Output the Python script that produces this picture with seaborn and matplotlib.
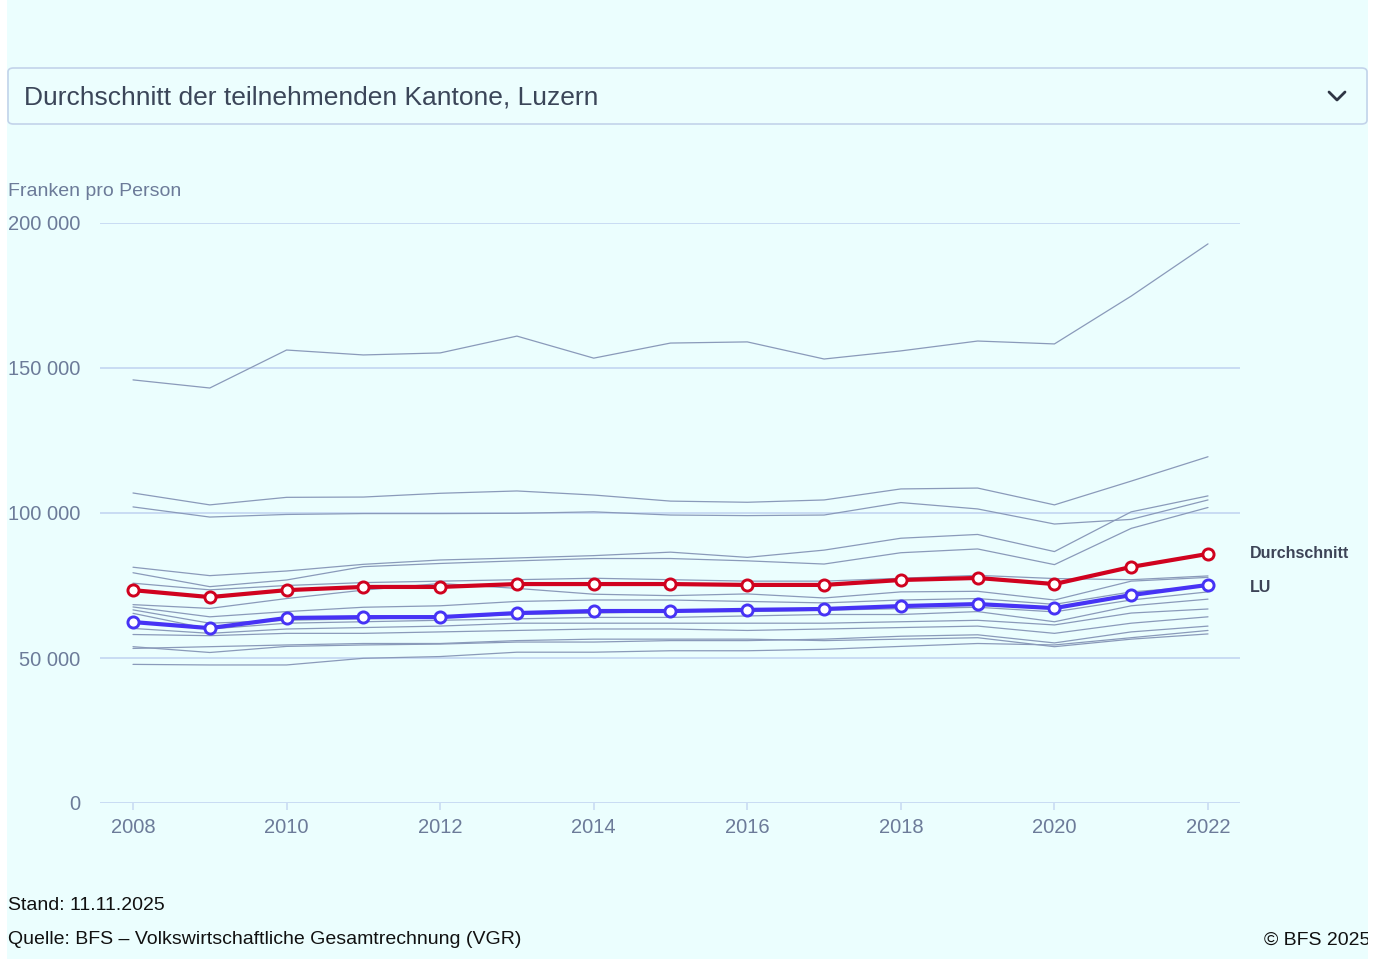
import numpy as np
import pandas as pd
import matplotlib
matplotlib.use("Agg")
import matplotlib.pyplot as plt
import seaborn as sns
from matplotlib.patches import FancyBboxPatch, Rectangle
from matplotlib.lines import Line2D

# ---------------- data ----------------
years = list(range(2008, 2023))

durchschnitt = [73.4, 71.0, 73.4, 74.5, 74.5, 75.5, 75.5, 75.5, 75.2, 75.2, 76.9, 77.6, 75.5, 81.4, 85.9]
luzern = [62.4, 60.3, 63.8, 64.1, 64.1, 65.5, 66.2, 66.2, 66.6, 66.9, 67.9, 68.6, 67.2, 71.7, 75.2]

kanton_g1 = [145.9, 143.1, 156.2, 154.5, 155.2, 161.0, 153.4, 158.6, 159.0, 153.1, 155.9, 159.3, 158.3, 174.8, 192.8]
kanton_g2 = [106.9, 102.8, 105.4, 105.5, 106.8, 107.6, 106.2, 104.1, 103.7, 104.5, 108.3, 108.6, 102.8, 111.0, 119.4]
kanton_g3 = [102.1, 98.6, 99.5, 99.8, 99.8, 99.9, 100.4, 99.3, 99.1, 99.3, 103.6, 101.4, 96.2, 97.8, 104.5]
kanton_g4 = [81.3, 78.4, 80.0, 82.3, 83.8, 84.5, 85.3, 86.5, 84.7, 87.2, 91.3, 92.6, 86.7, 100.4, 105.9]
kanton_g5 = [79.4, 74.6, 76.9, 81.5, 82.6, 83.5, 84.3, 84.3, 83.5, 82.4, 86.3, 87.6, 82.2, 94.7, 101.9]
kanton_c1 = [75.8, 73.5, 75.0, 76.0, 76.5, 77.0, 77.5, 77.0, 76.5, 76.5, 77.5, 78.5, 77.4, 77.0, 78.3]
kanton_c2 = [68.4, 67.1, 70.5, 73.4, 75.7, 74.0, 72.0, 71.5, 72.1, 70.7, 72.8, 73.0, 70.0, 76.5, 77.8]
kanton_c3 = [67.6, 64.2, 66.0, 67.5, 68.0, 69.5, 70.0, 70.0, 69.5, 69.0, 70.0, 70.5, 68.5, 72.8, 74.8]
kanton_c4 = [66.6, 62.0, 63.0, 63.5, 64.0, 65.0, 65.5, 66.0, 66.0, 66.5, 67.0, 67.5, 65.9, 70.0, 72.8]
kanton_c5 = [65.4, 60.0, 62.0, 62.5, 63.0, 63.5, 64.0, 64.0, 64.5, 65.0, 65.0, 66.0, 62.5, 68.0, 70.3]
kanton_c6 = [60.2, 58.5, 60.0, 60.5, 61.0, 62.0, 62.0, 62.0, 62.0, 62.0, 62.5, 63.0, 61.4, 65.5, 66.9]
kanton_c7 = [58.1, 57.7, 58.5, 58.5, 59.0, 59.5, 60.0, 60.0, 59.5, 60.0, 60.5, 61.0, 58.5, 62.0, 64.2]
kanton_c8 = [53.9, 51.9, 54.0, 54.5, 54.8, 55.5, 55.5, 56.0, 56.0, 56.5, 57.5, 58.0, 55.2, 59.0, 61.0]
kanton_c9 = [53.3, 53.9, 54.5, 55.0, 55.0, 56.0, 56.5, 56.5, 56.5, 56.0, 56.5, 57.0, 53.9, 56.5, 58.3]
kanton_c10 = [47.8, 47.6, 47.6, 49.9, 50.5, 52.0, 52.0, 52.5, 52.5, 53.0, 54.0, 55.0, 54.5, 57.0, 59.5]

gray_series = {
    "K1": kanton_g1, "K2": kanton_g2, "K3": kanton_g3, "K4": kanton_g4, "K5": kanton_g5,
    "K6": kanton_c1, "K7": kanton_c2, "K8": kanton_c3, "K9": kanton_c4, "K10": kanton_c5,
    "K11": kanton_c6, "K12": kanton_c7, "K13": kanton_c8, "K14": kanton_c9, "K15": kanton_c10,
}

y_ticks = [0, 50000, 100000, 150000, 200000]
y_ticklabels = ["0", "50 000", "100 000", "150 000", "200 000"]
x_ticks = [2008, 2010, 2012, 2014, 2016, 2018, 2020, 2022]

# ---------------- style ----------------
BG = "#ebfefe"
GRID = "#c9dcf3"
TICK_TXT = "#6c7b99"
GRAY_LINE = "#8a9aba"
RED = "#d0021f"
BLUE = "#4633f5"

sns.set_theme(style="white")
plt.rcParams["font.family"] = ["Liberation Sans", "DejaVu Sans"]

W, H = 1379, 959
fig = plt.figure(figsize=(W / 100, H / 100), dpi=100)
fig.patch.set_facecolor(BG)

def fx(px):
    return px / W

def fy(py):
    return 1 - py / H

ax = fig.add_axes([fx(100), fy(803), fx(1240) - fx(100), fy(223) - fy(803)])
ax.set_facecolor(BG)

rows = []
for name, vals in gray_series.items():
    for yr, v in zip(years, vals):
        rows.append({"Jahr": yr, "Wert": v * 1000, "Kanton": name})
df_gray = pd.DataFrame(rows)

sns.lineplot(data=df_gray, x="Jahr", y="Wert", units="Kanton", estimator=None,
             color=GRAY_LINE, linewidth=0.9, ax=ax, legend=False, zorder=2)

df_avg = pd.DataFrame({"Jahr": years, "Wert": np.array(durchschnitt) * 1000})
df_lu = pd.DataFrame({"Jahr": years, "Wert": np.array(luzern) * 1000})

sns.lineplot(data=df_avg, x="Jahr", y="Wert", color=RED, linewidth=3.0, ax=ax,
             marker="o", markersize=8, markerfacecolor="white", markeredgecolor=RED,
             markeredgewidth=2.1, zorder=4)
sns.lineplot(data=df_lu, x="Jahr", y="Wert", color=BLUE, linewidth=3.0, ax=ax,
             marker="o", markersize=8, markerfacecolor="white", markeredgecolor=BLUE,
             markeredgewidth=2.1, zorder=5)

ax.set_xlim(2008 - 33 / 76.8, 2022 + 32 / 76.8)
ax.set_ylim(0, 200000)

ax.set_yticks(y_ticks)
ax.set_yticklabels(y_ticklabels)
ax.set_xticks(x_ticks)
ax.set_xticklabels([str(x) for x in x_ticks])
ax.set_xlabel("")
ax.set_ylabel("")

for v in y_ticks:
    ax.axhline(v, color=GRID, linewidth=1.4, zorder=1)

for s in ax.spines.values():
    s.set_visible(False)

ax.tick_params(axis="y", length=0, pad=14, labelsize=14.5, labelcolor=TICK_TXT)
ax.tick_params(axis="x", length=5, width=1.2, color=GRID, pad=6, labelsize=14.5,
               labelcolor=TICK_TXT, bottom=True, direction="out")

fig.text(fx(8), fy(192), "Franken pro Person", fontsize=14, color=TICK_TXT,
         ha="left", va="center")

ax.annotate("Durchschnitt", xy=(2022, durchschnitt[-1] * 1000), xytext=(30, 0),
            textcoords="offset points", fontsize=11.5, fontweight="bold",
            color="#3d4457", ha="left", va="center")
ax.annotate("LU", xy=(2022, luzern[-1] * 1000), xytext=(30, -1.5),
            textcoords="offset points", fontsize=11.5, fontweight="bold",
            color="#3d4457", ha="left", va="center")

box = FancyBboxPatch((fx(8), fy(124)), fx(1367) - fx(8), fy(68) - fy(124),
                     boxstyle="round,pad=0,rounding_size=0.004",
                     transform=fig.transFigure, facecolor="#ecfefe",
                     edgecolor="#c3d3ea", linewidth=1.2)
fig.patches.append(box)
fig.text(fx(24), fy(97), "Durchschnitt der teilnehmenden Kantone, Luzern",
         fontsize=19, color="#3b4659", ha="left", va="center")
fig.lines.append(Line2D([fx(1329), fx(1337), fx(1345)], [fy(92), fy(100), fy(92)],
                        transform=fig.transFigure, color="#2f3645", linewidth=2.0))

fig.text(fx(8), fy(906), "Stand: 11.11.2025", fontsize=14, color="#111111",
         ha="left", va="center")
fig.text(fx(8), fy(940), "Quelle: BFS \u2013 Volkswirtschaftliche Gesamtrechnung (VGR)",
         fontsize=14, color="#111111", ha="left", va="center")
fig.text(fx(1264), fy(940), "\u00a9 BFS 2025", fontsize=14, color="#111111",
         ha="left", va="center")

fig.patches.append(Rectangle((0, 0), fx(7), 1, transform=fig.transFigure,
                             facecolor="white", edgecolor="none", zorder=10))
fig.patches.append(Rectangle((fx(1368), 0), 1 - fx(1368), 1, transform=fig.transFigure,
                             facecolor="white", edgecolor="none", zorder=10))

fig.savefig("out.png", dpi=100, facecolor=fig.get_facecolor())
